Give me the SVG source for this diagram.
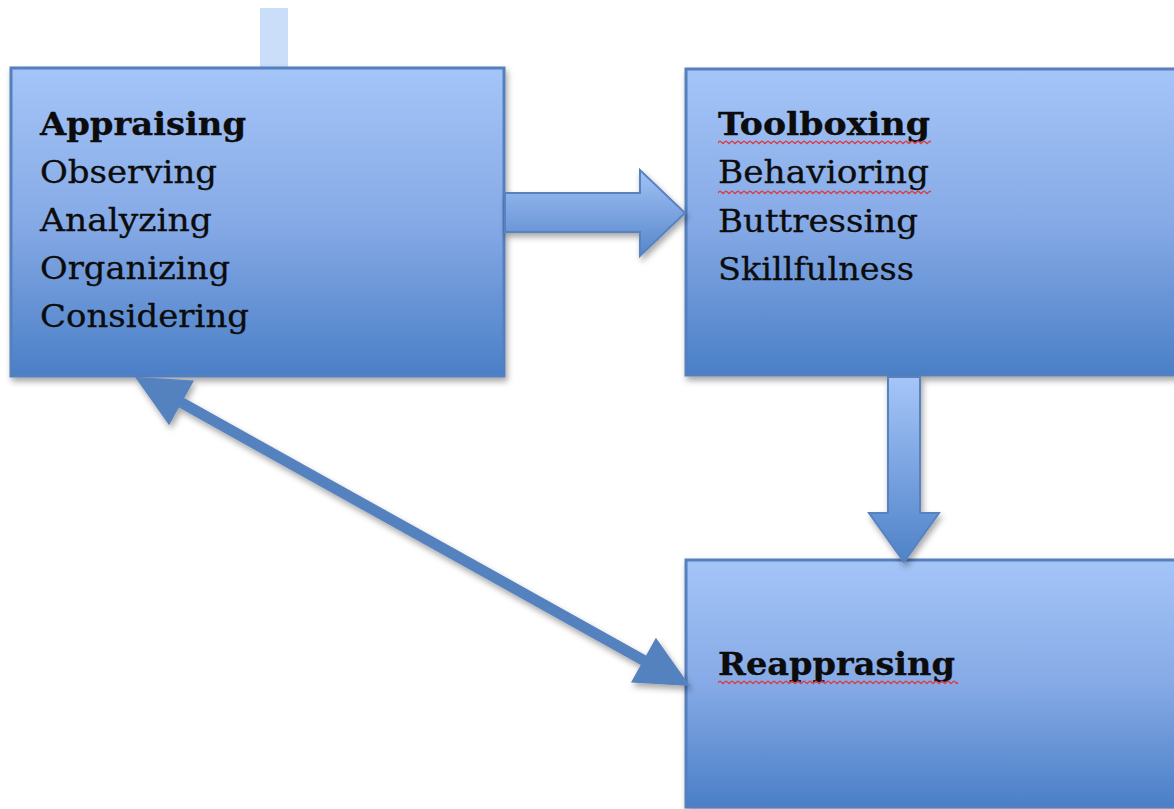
<svg xmlns="http://www.w3.org/2000/svg" width="1174" height="809" viewBox="0 0 1174 809">
  <defs>
    <linearGradient id="boxFill" x1="0" y1="0" x2="0" y2="1">
      <stop offset="0" stop-color="#a4c5f8"/>
      <stop offset="0.5" stop-color="#86aae6"/>
      <stop offset="1" stop-color="#4a7fc7"/>
    </linearGradient>
    <linearGradient id="hArrowFill" gradientUnits="userSpaceOnUse" x1="0" y1="170" x2="0" y2="256">
      <stop offset="0" stop-color="#a2c2f5"/>
      <stop offset="1" stop-color="#5686cb"/>
    </linearGradient>
    <linearGradient id="vArrowFill" gradientUnits="userSpaceOnUse" x1="0" y1="376" x2="0" y2="562">
      <stop offset="0" stop-color="#a6c6f8"/>
      <stop offset="1" stop-color="#4f82c9"/>
    </linearGradient>
    <!-- wavy spell-check underline tile -->
    <pattern id="wave" patternUnits="userSpaceOnUse" x="0" y="0" width="6" height="5">
      <path d="M0 1 L3 3.6 L6 1" fill="none" stroke="#e0373b" stroke-width="1.3"/>
    </pattern>
    <filter id="shadow" x="-10%" y="-10%" width="125%" height="130%">
      <feDropShadow dx="2" dy="4" stdDeviation="3" flood-color="#000" flood-opacity="0.35"/>
    </filter>
  </defs>
  <style>
    .box { fill: url(#boxFill); stroke: #547fbd; stroke-width: 3; filter: url(#shadow); }
    .label { font-family: "DejaVu Serif", "Liberation Serif", serif; font-size: 31px; fill: #0c0c0c; stroke: #0c0c0c; stroke-width: 0.3; }
    .title { font-weight: bold; }
    .squiggle { fill: url(#wave); }
    .arrow { stroke: #5882bf; stroke-width: 2; stroke-linejoin: miter; filter: url(#shadow); }
  </style>

  <rect width="1174" height="809" fill="#ffffff"/>

  <!-- stub of a connector entering the first box from above -->
  <g id="top-stub">
    <rect x="260" y="8" width="28" height="62" fill="#cadefa"/>
  </g>

  <g id="node-appraising">
    <rect class="box" x="11" y="68" width="493" height="308"/>
    <text class="label title" x="40" y="135" textLength="206" lengthAdjust="spacingAndGlyphs">Appraising</text>
    <text class="label" x="40" y="183" textLength="177" lengthAdjust="spacingAndGlyphs">Observing</text>
    <text class="label" x="40" y="231" textLength="172" lengthAdjust="spacingAndGlyphs">Analyzing</text>
    <text class="label" x="40" y="279" textLength="190" lengthAdjust="spacingAndGlyphs">Organizing</text>
    <text class="label" x="40" y="327" textLength="209" lengthAdjust="spacingAndGlyphs">Considering</text>
  </g>

  <g id="node-toolboxing">
    <rect class="box" x="686" y="69" width="500" height="306"/>
    <text class="label title" x="718" y="135" textLength="212" lengthAdjust="spacingAndGlyphs">Toolboxing</text>
    <rect class="squiggle" x="718" y="140" width="213" height="5"/>
    <text class="label" x="718" y="183" textLength="211" lengthAdjust="spacingAndGlyphs">Behavioring</text>
    <rect class="squiggle" x="718" y="190" width="213" height="5"/>
    <text class="label" x="718" y="232" textLength="200" lengthAdjust="spacingAndGlyphs">Buttressing</text>
    <text class="label" x="718" y="280" textLength="196" lengthAdjust="spacingAndGlyphs">Skillfulness</text>
  </g>

  <g id="node-reapprasing">
    <rect class="box" x="686" y="560" width="500" height="247"/>
    <text class="label title" x="718" y="675" textLength="237" lengthAdjust="spacingAndGlyphs">Reapprasing</text>
    <rect class="squiggle" x="718" y="680" width="240" height="5"/>
  </g>

  <g id="connectors">
    <!-- Appraising to Toolboxing -->
    <polygon class="arrow" fill="url(#hArrowFill)" points="505,193 640,193 640,170 685,213 640,256 640,232 505,232"/>
    <!-- Toolboxing to Reapprasing -->
    <polygon class="arrow" fill="url(#vArrowFill)" points="888,377 920,377 920,513 939,513 904,562 869,513 888,513"/>
    <!-- two-way link between Appraising and Reapprasing -->
    <polygon class="arrow" fill="#5382bf" stroke-width="1" points="137,378 192.4,381.3 182.9,398.4 646.5,656.8 656,639.7 688,685 632.6,681.7 642.1,664.6 178.5,406.2 169,423.3"/>
  </g>
</svg>
